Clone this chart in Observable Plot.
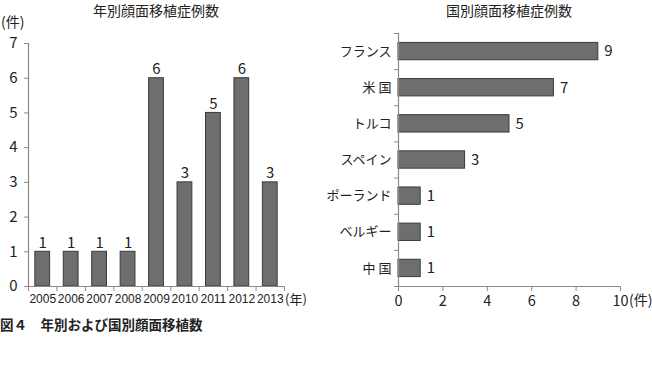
<!DOCTYPE html>
<html><head><meta charset="utf-8">
<script src="https://cdn.jsdelivr.net/npm/d3@7"></script>
<script src="https://cdn.jsdelivr.net/npm/@observablehq/plot@0.6"></script>
<style>
body{margin:0;background:#fff;}
#wrap{position:relative;width:652px;height:365px;font-family:"Noto Sans CJK JP","Noto Sans",sans-serif;color:#222;overflow:hidden;}
.t{position:absolute;white-space:nowrap;line-height:1;}
#left,#right{position:absolute;top:0;}
#left{left:0;} #right{left:330px;}
</style></head><body>
<div id="wrap">
  <div id="left"></div><div id="right"></div>
  <div class="t" style="left:93px;top:3px;font-size:14px;">年別顔面移植症例数</div>
  <div class="t" style="left:446px;top:3px;font-size:14px;">国別顔面移植症例数</div>
  <div class="t" style="left:1px;top:14px;font-size:14px;">(件)</div>
  <div class="t" style="left:285px;top:292px;font-size:13px;">(年)</div>
  <div class="t" style="left:629px;top:292px;font-size:14px;">(件)</div>
  <div class="t" style="left:0px;top:318px;font-size:13.5px;font-weight:bold;">図４　年別および国別顔面移植数</div>
</div>
<script>
const years = [2005, 2006, 2007, 2008, 2009, 2010, 2011, 2012, 2013];
const yearCounts = [1, 1, 1, 1, 6, 3, 5, 6, 3];
const countries = ["フランス", "米 国", "トルコ", "スペイン", "ポーランド", "ベルギー", "中 国"];
const countryCounts = [9, 7, 5, 3, 1, 1, 1];
const yTicksLeft = [0, 1, 2, 3, 4, 5, 6, 7];
const xTicksRight = [0, 2, 4, 6, 8, 10];

const yearData = years.map((y, i) => ({year: y, count: yearCounts[i]}));
const countryData = countries.map((c, i) => ({idx: i, name: countries[i], count: countryCounts[i]}));

const barFill = "#6e6e6e", barStroke = "#3a3a3a", axisColor = "#8a8a8a";
const font = '"Noto Sans CJK JP","Noto Sans",sans-serif';
const narrow = '"Liberation Sans",Arial,sans-serif';
const halfBar = 0.26;

const left = Plot.plot({
  width: 325, height: 320,
  marginLeft: 28, marginRight: 41, marginTop: 43, marginBottom: 34,
  style: {fontFamily: font, fontSize: "14px", color: "#222", background: "transparent", overflow: "visible"},
  x: {domain: [years[0] - 0.5, years[years.length - 1] + 0.5]},
  y: {domain: [0, 7]},
  marks: [
    Plot.rectY(yearData, {x1: d => d.year - halfBar, x2: d => d.year + halfBar, y1: 0, y2: "count", fill: barFill, stroke: barStroke, strokeWidth: 1}),
    Plot.ruleX([years[0] - 0.5], {stroke: axisColor, strokeWidth: 1.2}),
    Plot.ruleY([0], {stroke: axisColor, strokeWidth: 1.2}),
    Plot.axisY({ticks: yTicksLeft, tickSize: 4, tickPadding: 7, tickFormat: d => String(d), stroke: axisColor, fontSize: 15, label: null}),
    Plot.axisX({ticks: [...years.map(y => y - 0.5), years[years.length - 1] + 0.5], tickSize: 5, tickFormat: () => "", stroke: axisColor, label: null}),
    Plot.axisX({ticks: years, tickSize: 0, tickPadding: 8, tickFormat: d => String(d), fontSize: 12, fontFamily: narrow, label: null}),
    Plot.text(yearData, {x: "year", y: "count", text: d => String(d.count), dy: -9, fontSize: 15, fill: "#222"})
  ]
});
document.getElementById("left").appendChild(left);

const right = Plot.plot({
  width: 322, height: 320,
  marginLeft: 68, marginRight: 32, marginTop: 33, marginBottom: 34,
  style: {fontFamily: font, fontSize: "14px", color: "#222", background: "transparent", overflow: "visible"},
  x: {domain: [0, 10]},
  y: {domain: [countries.length - 0.5, -0.5]},
  marks: [
    Plot.rectX(countryData, {y1: d => d.idx - 0.24, y2: d => d.idx + 0.24, x1: 0, x2: "count", fill: barFill, stroke: barStroke, strokeWidth: 1}),
    Plot.ruleX([0], {stroke: axisColor, strokeWidth: 1.2}),
    Plot.ruleY([countries.length - 0.5], {stroke: axisColor, strokeWidth: 1.2}),
    Plot.axisY({ticks: d3.range(-0.5, countries.length, 1), tickSize: 4, tickFormat: () => "", stroke: axisColor, label: null}),
    Plot.axisY({ticks: countries.map((c, i) => i), tickSize: 0, tickPadding: 7, tickFormat: i => countries[i], fontSize: 13, label: null}),
    Plot.axisX({ticks: xTicksRight, tickSize: 5, tickPadding: 4, stroke: axisColor, fontSize: 14.5, label: null}),
    Plot.text(countryData, {x: "count", y: "idx", text: d => String(d.count), dx: 6, textAnchor: "start", fontSize: 15, fill: "#222"})
  ]
});
document.getElementById("right").appendChild(right);
</script>
</body></html>
